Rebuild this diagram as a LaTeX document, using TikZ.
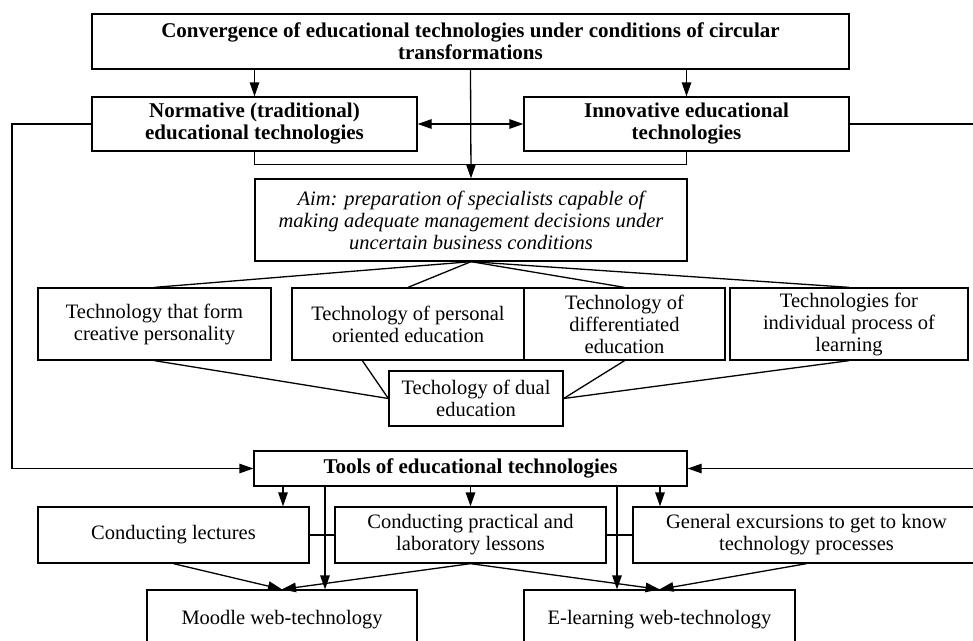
\documentclass[tikz,border=0pt]{standalone}
\usepackage{fontspec}
\setmainfont{Liberation Serif}
\usetikzlibrary{arrows.meta}
\usetikzlibrary{positioning}
\tikzset{
    Box/.style = {rectangle, draw=black, align=center, inner sep=0pt, line width=1.3pt}
}
\tikzset{
    Edge/.style = {draw=black, line width=1.3pt, -{Triangle[length=14pt,width=9.5pt]}}
}

\begin{document}
\begin{tikzpicture}[
    x=1pt, y=-1pt,
    line width=1.3pt,
    font=\fontsize{20.5}{22}\selectfont
]
\tikzset{
    Head/.style = {Box, font=\fontsize{21}{22}\selectfont\bfseries},
    Both/.style = {Edge, {Triangle[length=14pt,width=9.5pt]}-{Triangle[length=14pt,width=9.5pt]}},
}
\clip (0,0) rectangle (973,640);

% upper part
\node[Head, minimum width=757, minimum height=55] at (470.5,41.5) (conv)
    {Convergence of educational technologies under conditions of circular\\ transformations};
\node[Head, minimum width=325, minimum height=54] at (254.5,124) (norm)
    {Normative (traditional)\\ educational technologies};
\node[Head, minimum width=325, minimum height=54] at (686.5,124) (innov)
    {Innovative educational\\ technologies};
\node[Box, minimum width=432, minimum height=82, font=\fontsize{20.5}{22}\selectfont\itshape] at (471,220) (aim)
    {Aim: preparation of specialists capable of\\ making adequate management decisions under\\ uncertain business conditions};

% technologies row
\node[Box, minimum width=233, minimum height=72] at (154.5,324) (form) {Technology that form\\ creative personality};
\node[Box, minimum width=232, minimum height=72] at (408,324) (pers) {Technology of personal\\ oriented education};
\node[Box, minimum width=201, minimum height=72] at (624.5,324) (diff) {Technology of\\ differentiated\\ education};
\node[Box, minimum width=238, minimum height=72] at (849,324) (indiv) {Technologies for\\ individual process of\\ learning};
\node[Box, minimum width=174, minimum height=55] at (476,398.5) (dual) {Techology of dual\\ education};

% tools part
\node[Head, minimum width=433, minimum height=35] at (470.5,468.5) (tools) {Tools of educational technologies};
\node[Box, minimum width=271, minimum height=56] at (173.5,535) (lect) {Conducting lectures};
\node[Box, minimum width=271, minimum height=56] at (470.5,535) (prac) {Conducting practical and\\ laboratory lessons};
\node[Box, minimum width=347, minimum height=56] at (806.5,535) (gen) {General excursions to get to know\\ technology processes};
\node[Box, minimum width=270, minimum height=60] at (282,620) (moodle) {Moodle web-technology};
\node[Box, minimum width=271, minimum height=60] at (659.5,620) (elearn) {E-learning web-technology};

\coordinate (lbend) at (12,124);
\coordinate (rbend) at (985,124);
\coordinate (d1) at (283,486);
\coordinate (d2) at (325,486);
\coordinate (d4) at (617,486);
\coordinate (d5) at (660,486);

\path (norm.north |- conv.south) edge [Edge] (norm.north);
\path (innov.north |- conv.south) edge [Edge] (innov.north);
\path (conv.south) edge [Edge] (aim.north);
\path (norm.east) edge [Both] (innov.west);
\draw (norm.south) -- ++(0,13) -| (innov.south);

\draw (aim.south) -- (form.north);
\draw (aim.south) -- (pers.north);
\draw (aim.south) -- (diff.north);
\draw (aim.south) -- (indiv.north);
\draw (form.south) -- (dual.west);
\draw ([xshift=71pt]pers.south west) -- (dual.west);
\draw (diff.south) -- (dual.east);
\draw (indiv.south) -- (dual.east);

\draw[Edge] (norm.west) -- (lbend) |- (tools.west);
\draw[Edge] (innov.east) -- (rbend) |- (tools.east);

\path (d1) edge [Edge] (d1 |- lect.north);
\path (d2) edge [Edge] (d2 |- moodle.north);
\path (tools.south) edge [Edge] (prac.north);
\path (d4) edge [Edge] (d4 |- elearn.north);
\path (d5) edge [Edge] (d5 |- gen.north);
\draw (lect.east) -- (prac.west);
\draw (prac.east) -- (gen.west);

\path (lect.south) edge [Edge] (moodle.north);
\path (prac.south) edge [Edge] (moodle.north);
\path (prac.south) edge [Edge] (elearn.north);
\path (gen.south) edge [Edge] (elearn.north);
\end{tikzpicture}
\end{document}
